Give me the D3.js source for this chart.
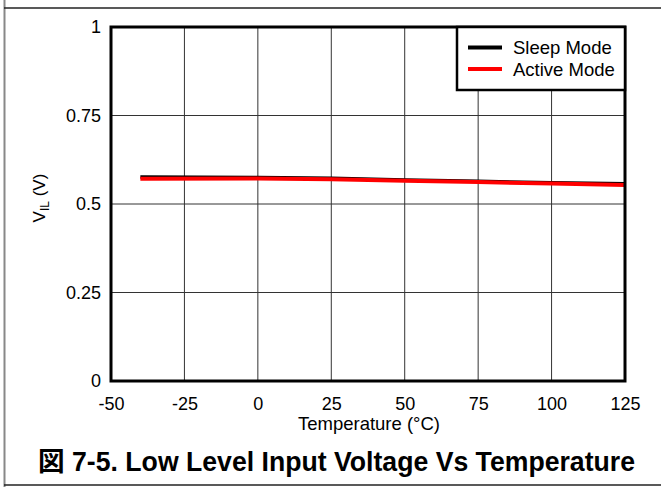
<!DOCTYPE html>
<html><head><meta charset="utf-8">
<script src="https://cdn.jsdelivr.net/npm/d3@7"></script>
<style>
html,body{margin:0;padding:0;background:#fff;}
svg{display:block;font-family:"Liberation Sans",Arial,sans-serif;}
</style></head>
<body>
<svg id="c" width="661" height="487"></svg>
<script>
const temps = [-40, 0, 25, 50, 75, 100, 125];
const sleepMode = [0.576, 0.575, 0.573, 0.568, 0.564, 0.560, 0.557];
const activeMode = [0.571, 0.572, 0.570, 0.566, 0.562, 0.558, 0.554];
const xTicks = [-50, -25, 0, 25, 50, 75, 100, 125];
const xTickLabels = ["-50", "-25", "0", "25", "50", "75", "100", "125"];
const yTicks = [0, 0.25, 0.5, 0.75, 1];
const yTickLabels = ["0", "0.25", "0.5", "0.75", "1"];
const seriesNames = ["Sleep Mode", "Active Mode"];
const seriesColors = ["#000000", "#ff0000"];
const xTitle = "Temperature (°C)";
const chartTitle = "図 7-5. Low Level Input Voltage Vs Temperature";

const svg = d3.select("#c");
const L = 111, R = 625, T = 27, B = 381;
const x = d3.scaleLinear().domain([-50, 125]).range([L, R]);
const y = d3.scaleLinear().domain([0, 1]).range([B, T]);
const FF = "Liberation Sans, Arial, sans-serif";

// outer frame
svg.append("line").attr("x1",4.5).attr("x2",4.5).attr("y1",0).attr("y2",487).attr("stroke","#888").attr("stroke-width",2);
svg.append("line").attr("x1",4).attr("x2",661).attr("y1",8).attr("y2",8).attr("stroke","#222").attr("stroke-width",1.5);
svg.append("line").attr("x1",4).attr("x2",661).attr("y1",485).attr("y2",485).attr("stroke","#222").attr("stroke-width",1.5);

// grid
const grid = svg.append("g");
grid.selectAll("line.v").data(xTicks).join("line")
  .attr("x1", d=>x(d)).attr("x2", d=>x(d)).attr("y1", T).attr("y2", B)
  .attr("stroke", "#333").attr("stroke-width", 1);
grid.selectAll("line.h").data(yTicks).join("line")
  .attr("x1", L).attr("x2", R).attr("y1", d=>y(d)).attr("y2", d=>y(d))
  .attr("stroke", "#333").attr("stroke-width", 1);

// axes labels
const xAxis = d3.axisBottom(x).tickValues(xTicks).tickSize(0).tickPadding(16).tickFormat((d,i)=>xTickLabels[i]);
const gx = svg.append("g").attr("transform", `translate(0,${B})`).call(xAxis);
gx.select(".domain").remove();
gx.selectAll("text").attr("font-size", 18).attr("fill", "#000").attr("font-family", FF);

const yAxis = d3.axisLeft(y).tickValues(yTicks).tickSize(0).tickPadding(10).tickFormat((d,i)=>yTickLabels[i]);
const gy = svg.append("g").attr("transform", `translate(${L},0)`).call(yAxis);
gy.select(".domain").remove();
gy.selectAll("text").attr("font-size", 18).attr("fill", "#000").attr("font-family", FF);

// lines
const line = d3.line().x((d,i)=>x(temps[i])).y(d=>y(d));
svg.append("path").datum(sleepMode).attr("d", line).attr("fill","none").attr("stroke", seriesColors[0]).attr("stroke-width", 3.5);
svg.append("path").datum(activeMode).attr("d", line).attr("fill","none").attr("stroke", seriesColors[1]).attr("stroke-width", 4);

// plot border
svg.append("rect").attr("x", L).attr("y", T).attr("width", R-L).attr("height", B-T)
  .attr("fill","none").attr("stroke","#000").attr("stroke-width",3);

// legend
const lg = svg.append("g");
lg.append("rect").attr("x", 457).attr("y", T).attr("width", R-457).attr("height", 63)
  .attr("fill","#fff").attr("stroke","#000").attr("stroke-width",2.5);
seriesNames.forEach((n,i)=>{
  const yy = 47.5 + i*21.5;
  lg.append("line").attr("x1",468).attr("x2",502).attr("y1",yy).attr("y2",yy)
    .attr("stroke", seriesColors[i]).attr("stroke-width", 4);
  lg.append("text").attr("x",513).attr("y",yy+6.5).attr("font-size",18.5).text(n);
});

// axis titles
svg.append("text").attr("x", 369).attr("y", 430).attr("text-anchor","middle").attr("font-size",18.5).text(xTitle);
const yt = svg.append("text").attr("transform", "translate(45,198) rotate(-90)").attr("text-anchor","middle").attr("font-size",17);
yt.append("tspan").text("V");
yt.append("tspan").attr("font-size",12).attr("dy",4).text("IL");
yt.append("tspan").attr("dy",-4).text(" (V)");

// title
svg.append("text").attr("x", 38).attr("y", 471).attr("font-size", 27).attr("font-weight","bold")
  .attr("textLength", 597).attr("lengthAdjust", "spacingAndGlyphs")
  .attr("font-family", "Liberation Sans, 'Noto Sans CJK JP', Arial, sans-serif").text(chartTitle);
</script>
</body></html>
